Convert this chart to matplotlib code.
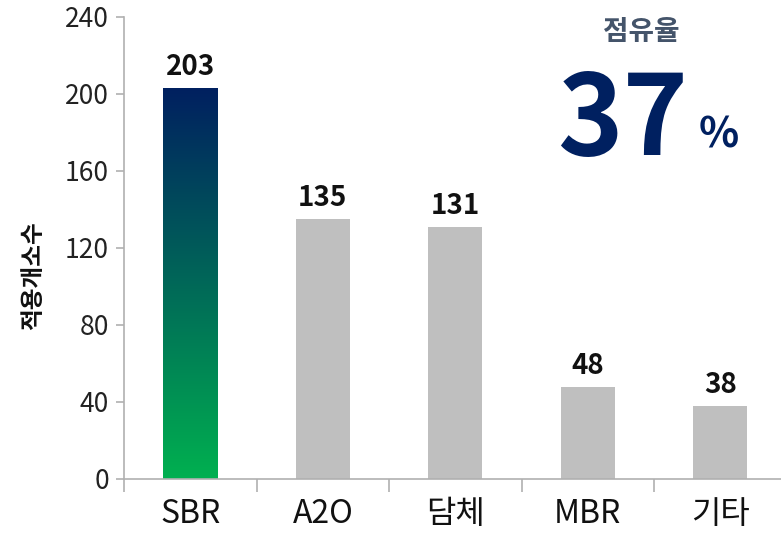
import numpy as np
import matplotlib
matplotlib.use("Agg")
from matplotlib import pyplot as plt
from matplotlib.colors import LinearSegmentedColormap

plt.rcParams['font.family'] = ['Noto Sans CJK KR', 'DejaVu Sans']

# data
categories = ["SBR", "A2O", "담체", "MBR", "기타"]
counts = [203, 135, 131, 48, 38]
y_ticks = [0, 40, 80, 120, 160, 200, 240]
share_text = "37"

fig = plt.figure(figsize=(7.81, 5.43), dpi=100)
ax = fig.add_axes([0.159, 0.118, 0.848, 0.851])

x = np.arange(len(categories))
bars = ax.bar(x, counts, width=0.41, color="#bfbfbf", zorder=2)

# first bar gets the navy -> green gradient
grad = LinearSegmentedColormap.from_list("g", ["#00b050", "#002060"])
b0 = bars[0]
b0.set_facecolor("none")
x0, w, h = b0.get_x(), b0.get_width(), b0.get_height()
img = ax.imshow(np.linspace(0, 1, 256).reshape(-1, 1), cmap=grad, origin="lower",
                extent=[x0, x0 + w, 0, h], aspect="auto", zorder=2)
img.set_clip_path(b0)

for xi, v in zip(x, counts):
    ax.annotate(str(v), (xi, v), xytext=(0, 5), textcoords="offset points",
                ha="center", va="bottom", fontsize=20, fontweight="bold", color="#111111")

ax.set_xlim(-0.5, 4.5)
ax.set_ylim(0, 240)
ax.set_yticks(y_ticks)
ax.set_xticks(x)
ax.set_xticklabels(categories)
ax.set_xticks(np.arange(-0.5, 5, 1), minor=True)

for s in ["top", "right"]:
    ax.spines[s].set_visible(False)
for s in ["left", "bottom"]:
    ax.spines[s].set_color("#b0b0b0")
    ax.spines[s].set_linewidth(1.2)

ax.tick_params(axis="y", length=6, width=1.2, color="#b0b0b0", labelsize=19,
               labelcolor="#222222", pad=5)
ax.tick_params(axis="x", which="major", length=0, labelsize=23, labelcolor="#111111", pad=14)
ax.tick_params(axis="x", which="minor", length=9, width=1.2, color="#b0b0b0")

ax.set_ylabel("적용개소수", fontsize=17, fontweight="bold", color="#111111")
ax.yaxis.set_label_coords(-0.12, 0.44)

fig.text(0.821, 0.941, "점유율", ha="center", va="center", fontsize=20,
         fontweight="bold", color="#44546a")
fig.text(0.881, 0.715, share_text, ha="right", va="baseline", fontsize=80,
         fontweight="bold", color="#002060")
fig.text(0.895, 0.728, "%", ha="left", va="baseline", fontsize=30,
         fontweight="bold", color="#002060")

fig.savefig("out.png", dpi=100)
